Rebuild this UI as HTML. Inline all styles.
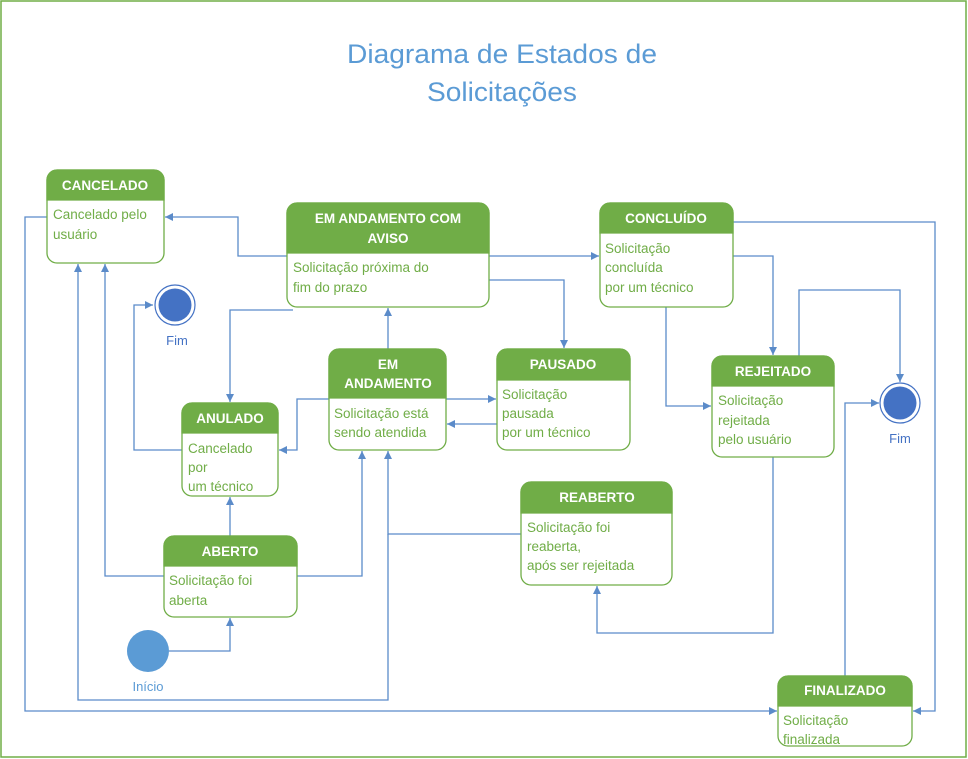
<!DOCTYPE html>
<html><head><meta charset="utf-8"><style>
html,body{margin:0;padding:0;background:#fff;}
svg{display:block;}
.h{font-family:"Liberation Sans",sans-serif;font-weight:bold;font-size:13.5px;fill:#fff;text-anchor:middle;}
.b{font-family:"Liberation Sans",sans-serif;font-size:13.5px;fill:#70ad47;}
.l{fill:none;stroke:#5b8bc9;stroke-width:1.3;}
.lab{font-family:"Liberation Sans",sans-serif;font-size:13px;fill:#4472c4;text-anchor:middle;}
</style></head><body>
<svg width="968" height="759" viewBox="0 0 968 759" xmlns="http://www.w3.org/2000/svg">
<defs>
<marker id="a" viewBox="0 0 10 10" refX="10" refY="5" markerWidth="8" markerHeight="8" markerUnits="userSpaceOnUse" orient="auto">
<path d="M0,0 L10,5 L0,10 z" fill="#5b8bc9"/></marker>
</defs>
<rect x="1" y="1" width="965" height="756" fill="none" stroke="#70ad47" stroke-width="1.5"/>
<text x="502" y="63" font-family="Liberation Sans,sans-serif" font-size="27" fill="#5b9bd5" text-anchor="middle" textLength="310" lengthAdjust="spacingAndGlyphs">Diagrama de Estados de</text>
<text x="502" y="101" font-family="Liberation Sans,sans-serif" font-size="27" fill="#5b9bd5" text-anchor="middle" textLength="150" lengthAdjust="spacingAndGlyphs">Solicitações</text>

<!-- connectors -->
<g class="l" marker-end="url(#a)">
<polyline points="287,256 238,256 238,217 165,217"/>
<polyline points="489,256 599,256"/>
<polyline points="489,280 564,280 564,348"/>
<polyline points="293,310 230,310 230,402"/>
<polyline points="388,349 388,308"/>
<polyline points="446,399 496,399"/>
<polyline points="497,424 447,424"/>
<polyline points="329,399 297,399 297,450 279,450"/>
<polyline points="182,450 134,450 134,305 153,305"/>
<polyline points="230,536 230,497"/>
<polyline points="164,576 105,576 105,264"/>
<polyline points="297,576 362,576 362,451"/>
<polyline points="169,651 230,651 230,618"/>
<polyline points="521,534 388,534 388,451"/>
<polyline points="388,534 388,700 78,700 78,264"/>
<polyline points="47,217 25,217 25,711 777,711"/>
<polyline points="733,222 935,222 935,711 913,711"/>
<polyline points="733,256 773,256 773,355"/>
<polyline points="666,307 666,406 711,406"/>
<polyline points="799,356 799,290 900,290 900,382"/>
<polyline points="845,676 845,403 879,403"/>
<polyline points="773,457 773,633 597,633 597,586"/>
</g>

<!-- states -->
<g stroke="#70ad47" stroke-width="1.3">
<rect x="47" y="170" width="117" height="93" rx="10" fill="#fff"/>
<path d="M47,200 V180 a10,10 0 0 1 10,-10 H154 a10,10 0 0 1 10,10 V200 z" fill="#70ad47"/>
<rect x="287" y="203" width="202" height="104" rx="10" fill="#fff"/>
<path d="M287,253 V213 a10,10 0 0 1 10,-10 H479 a10,10 0 0 1 10,10 V253 z" fill="#70ad47"/>
<rect x="600" y="203" width="133" height="104" rx="10" fill="#fff"/>
<path d="M600,233 V213 a10,10 0 0 1 10,-10 H723 a10,10 0 0 1 10,10 V233 z" fill="#70ad47"/>
<rect x="497" y="349" width="133" height="101" rx="10" fill="#fff"/>
<path d="M497,380 V359 a10,10 0 0 1 10,-10 H620 a10,10 0 0 1 10,10 V380 z" fill="#70ad47"/>
<rect x="329" y="349" width="117" height="101" rx="10" fill="#fff"/>
<path d="M329,398 V359 a10,10 0 0 1 10,-10 H436 a10,10 0 0 1 10,10 V398 z" fill="#70ad47"/>
<rect x="182" y="403" width="96" height="93" rx="10" fill="#fff"/>
<path d="M182,433 V413 a10,10 0 0 1 10,-10 H268 a10,10 0 0 1 10,10 V433 z" fill="#70ad47"/>
<rect x="712" y="356" width="122" height="101" rx="10" fill="#fff"/>
<path d="M712,386 V366 a10,10 0 0 1 10,-10 H824 a10,10 0 0 1 10,10 V386 z" fill="#70ad47"/>
<rect x="521" y="482" width="151" height="103" rx="10" fill="#fff"/>
<path d="M521,513 V492 a10,10 0 0 1 10,-10 H662 a10,10 0 0 1 10,10 V513 z" fill="#70ad47"/>
<rect x="164" y="536" width="133" height="81" rx="10" fill="#fff"/>
<path d="M164,566 V546 a10,10 0 0 1 10,-10 H287 a10,10 0 0 1 10,10 V566 z" fill="#70ad47"/>
<rect x="778" y="676" width="134" height="70" rx="10" fill="#fff"/>
<path d="M778,706 V686 a10,10 0 0 1 10,-10 H902 a10,10 0 0 1 10,10 V706 z" fill="#70ad47"/>
</g>

<text class="h" x="105" y="190">CANCELADO</text>
<text class="b" x="53" y="219">Cancelado pelo</text>
<text class="b" x="53" y="239">usuário</text>

<text class="h" x="388" y="223">EM ANDAMENTO COM</text>
<text class="h" x="388" y="243">AVISO</text>
<text class="b" x="293" y="272">Solicitação próxima do</text>
<text class="b" x="293" y="292">fim do prazo</text>

<text class="h" x="666" y="223">CONCLUÍDO</text>
<text class="b" x="605" y="253">Solicitação</text>
<text class="b" x="605" y="272">concluída</text>
<text class="b" x="605" y="292">por um técnico</text>

<text class="h" x="563" y="369">PAUSADO</text>
<text class="b" x="502" y="399">Solicitação</text>
<text class="b" x="502" y="418">pausada</text>
<text class="b" x="502" y="437">por um técnico</text>

<text class="h" x="388" y="369">EM</text>
<text class="h" x="388" y="388">ANDAMENTO</text>
<text class="b" x="334" y="418">Solicitação está</text>
<text class="b" x="334" y="437">sendo atendida</text>

<text class="h" x="230" y="423">ANULADO</text>
<text class="b" x="188" y="453">Cancelado</text>
<text class="b" x="188" y="472">por</text>
<text class="b" x="188" y="491">um técnico</text>

<text class="h" x="773" y="376">REJEITADO</text>
<text class="b" x="718" y="405">Solicitação</text>
<text class="b" x="718" y="425">rejeitada</text>
<text class="b" x="718" y="444">pelo usuário</text>

<text class="h" x="597" y="502">REABERTO</text>
<text class="b" x="527" y="532">Solicitação foi</text>
<text class="b" x="527" y="551">reaberta,</text>
<text class="b" x="527" y="570">após ser rejeitada</text>

<text class="h" x="230" y="556">ABERTO</text>
<text class="b" x="169" y="585">Solicitação foi</text>
<text class="b" x="169" y="605">aberta</text>

<text class="h" x="845" y="695">FINALIZADO</text>
<text class="b" x="783" y="725">Solicitação</text>
<text class="b" x="783" y="744">finalizada</text>

<!-- pseudo states -->
<circle cx="175" cy="305" r="20" fill="#fff" stroke="#4472c4" stroke-width="1.2"/>
<circle cx="175" cy="305" r="16.5" fill="#4472c4"/>
<text class="lab" x="177" y="345">Fim</text>
<circle cx="900" cy="403" r="20" fill="#fff" stroke="#4472c4" stroke-width="1.2"/>
<circle cx="900" cy="403" r="16.5" fill="#4472c4"/>
<text class="lab" x="900" y="443">Fim</text>
<ellipse cx="148" cy="651" rx="21" ry="21" fill="#5b9bd5"/>
<text class="lab" x="148" y="691" style="fill:#5b9bd5">Início</text>
</svg>
</body></html>
